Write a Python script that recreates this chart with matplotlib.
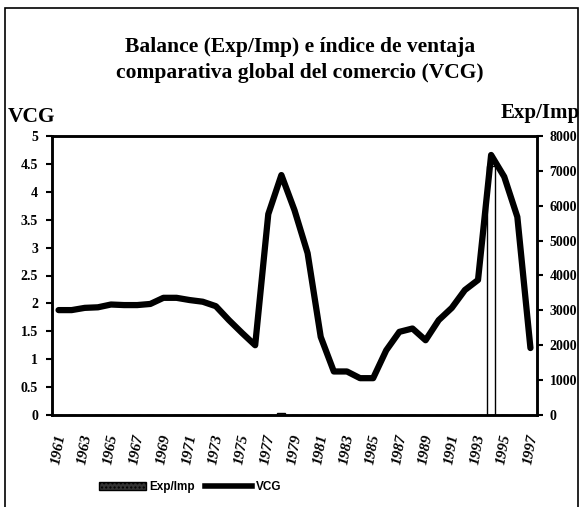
import matplotlib
matplotlib.use("Agg")
import matplotlib.pyplot as plt
from matplotlib.patches import Rectangle, Patch
from matplotlib.lines import Line2D

years = list(range(1961, 1998))
vcg = [1.88, 1.88, 1.92, 1.93, 1.98, 1.97, 1.97, 1.99, 2.1, 2.1,
       2.06, 2.03, 1.95, 1.7, 1.47, 1.25, 3.6, 4.3, 3.67, 2.9,
       1.4, 0.78, 0.78, 0.66, 0.66, 1.16, 1.49, 1.55, 1.34, 1.7,
       1.92, 2.24, 2.42, 4.66, 4.27, 3.55, 1.2]
exp_imp = [0] * 17 + [60] + [0] * 15 + [7150] + [0] * 3
tick_years = years[::2]

serif = "Liberation Serif"
fig = plt.figure(figsize=(5.83, 5.07), dpi=100)
fig.patches.append(Rectangle((5 / 583, -0.01), 573 / 583, 1 - 8 / 507 + 0.01,
                             transform=fig.transFigure, fill=False,
                             edgecolor="black", linewidth=1.2))

ax = fig.add_axes([52 / 583, 1 - 415 / 507, (537 - 52) / 583, (415 - 136) / 507])
ax2 = ax.twinx()

x = list(range(len(years)))
ax2.bar(x, exp_imp, width=0.6, color="white", edgecolor="black",
        linewidth=1.0, zorder=1)
ax.set_zorder(ax2.get_zorder() + 1)
ax.patch.set_visible(False)
ax.plot(x, vcg, color="black", linewidth=4.5, solid_joinstyle="round",
        solid_capstyle="round", zorder=3)

ax.set_xlim(-0.5, len(years) - 0.5)
ax.set_ylim(0, 5)
ax2.set_ylim(0, 8000)
ax.set_yticks([0, 0.5, 1, 1.5, 2, 2.5, 3, 3.5, 4, 4.5, 5])
ax.set_yticklabels(["0", "0.5", "1", "1.5", "2", "2.5", "3", "3.5", "4", "4.5", "5"],
                   fontfamily=serif, fontweight="bold", fontsize=10)
ax2.set_yticks(range(0, 8001, 1000))
ax2.set_yticklabels([str(v) for v in range(0, 8001, 1000)],
                    fontfamily=serif, fontweight="bold", fontsize=10)
tick_pos = [years.index(y) for y in tick_years]
ax.set_xticks(tick_pos)
ax.set_xticklabels([str(y) for y in tick_years], rotation=80,
                   fontfamily=serif, fontweight="bold", fontstyle="italic",
                   fontsize=11, ha="center", va="top")
ax.tick_params(axis="x", length=0, pad=13)
ax.tick_params(axis="y", length=4, width=1.5, direction="out", pad=6)
ax2.tick_params(axis="y", length=4, width=1.5, direction="out", pad=5)

for a in (ax, ax2):
    for s in a.spines.values():
        s.set_linewidth(1.8)

fig.text(0.514, 1 - 47 / 507, "Balance (Exp/Imp) e índice de ventaja",
         ha="center", va="center", fontfamily=serif, fontweight="bold", fontsize=15.5)
fig.text(0.514, 1 - 73 / 507, "comparativa global del comercio (VCG)",
         ha="center", va="center", fontfamily=serif, fontweight="bold", fontsize=15.5)
fig.text(8 / 583, 1 - 117 / 507, "VCG", ha="left", va="center",
         fontfamily=serif, fontweight="bold", fontsize=15.5)
fig.text(580 / 583, 1 - 113 / 507, "Exp/Imp", ha="right", va="center",
         fontfamily=serif, fontweight="bold", fontsize=15)

matplotlib.rcParams["hatch.color"] = "white"
handles = [Patch(facecolor="#333333", edgecolor="black", hatch="....", label="Exp/Imp"),
           Line2D([0], [0], color="black", linewidth=4, label="VCG")]
fig.legend(handles=handles, loc="center", bbox_to_anchor=(190 / 583, 1 - 487 / 507),
           ncol=2, frameon=False, prop={"family": "Liberation Sans", "weight": "bold", "size": 8.5},
           handlelength=4, handletextpad=0.3, columnspacing=0.8)

fig.savefig("out.png", dpi=100)
